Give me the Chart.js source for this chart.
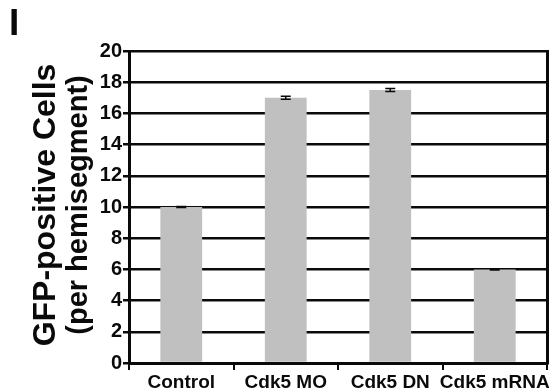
<!DOCTYPE html>
<html>
<head>
<meta charset="utf-8">
<script src="https://cdn.jsdelivr.net/npm/chart.js@4"></script>
<style>
  html, body { margin: 0; padding: 0; background: #fff; }
  #wrap { width: 553px; height: 392px; }
</style>
</head>
<body>
<div id="wrap"><canvas id="myChart" width="553" height="392"></canvas></div>
<script>
// data
const groups = ['Control', 'Cdk5 MO', 'Cdk5 DN', 'Cdk5 mRNA'];
const cellCounts = [10.0, 17.0, 17.5, 6.0];
const cellErrors = [0.04, 0.1, 0.1, 0.04];
const yTicks = [0, 2, 4, 6, 8, 10, 12, 14, 16, 18, 20];

const FONT = "'Liberation Sans', Arial, Helvetica, sans-serif";
const INK = '#0a0a0a';

// error bars + panel letter + axis title
const extras = {
  id: 'extras',
  afterDatasetsDraw(chart) {
    const ctx = chart.ctx;
    const y = chart.scales.y;
    const meta = chart.getDatasetMeta(0);
    ctx.save();
    ctx.strokeStyle = INK;
    ctx.lineWidth = 1.5;
    meta.data.forEach((bar, i) => {
      const v = cellCounts[i], e = cellErrors[i];
      const top = y.getPixelForValue(v + e);
      const bot = y.getPixelForValue(v - e);
      const cap = 5;
      ctx.beginPath();
      ctx.moveTo(bar.x, top); ctx.lineTo(bar.x, bot);
      ctx.moveTo(bar.x - cap, top); ctx.lineTo(bar.x + cap, top);
      ctx.moveTo(bar.x - cap, bot); ctx.lineTo(bar.x + cap, bot);
      ctx.stroke();
    });
    ctx.restore();
  },
  afterDraw(chart) {
    const ctx = chart.ctx;
    const a = chart.chartArea;
    ctx.save();
    ctx.fillStyle = INK;

    // panel letter
    ctx.font = 'bold 37px ' + FONT;
    ctx.textAlign = 'left';
    ctx.textBaseline = 'alphabetic';
    ctx.fillText('I', 9, 35);

    // y axis title (two lines, different sizes)
    const cy = (a.top + a.bottom) / 2 - 2;
    ctx.translate(0, cy);
    ctx.rotate(-Math.PI / 2);
    ctx.textAlign = 'center';
    ctx.font = 'bold 32px ' + FONT;
    ctx.fillText('GFP-positive Cells', 0, 55);
    ctx.font = 'bold 29px ' + FONT;
    ctx.fillText('(per hemisegment)', 0, 87);
    ctx.restore();
  }
};

new Chart(document.getElementById('myChart'), {
  type: 'bar',
  data: {
    labels: groups,
    datasets: [{
      data: cellCounts,
      backgroundColor: '#c0c0c0',
      borderWidth: 0,
      barPercentage: 0.4,
      categoryPercentage: 1.0
    }]
  },
  options: {
    responsive: false,
    animation: false,
    devicePixelRatio: 1,
    layout: { padding: { top: 51, right: 0, left: 0, bottom: 0 } },
    plugins: { legend: { display: false }, tooltip: { enabled: false } },
    scales: {
      x: {
        offset: true,
        afterFit: (s) => { s.height = 29; },
        border: { display: true, color: INK, width: 3 },
        grid: { offset: true, drawOnChartArea: false, tickLength: 7, color: INK, lineWidth: 2 },
        ticks: {
          color: INK, padding: 1, autoSkip: false, maxRotation: 0,
          font: { family: FONT, size: 19, weight: 'bold' }
        }
      },
      y: {
        min: yTicks[0],
        max: yTicks[yTicks.length - 1],
        afterFit: (s) => { s.width = 129; },
        border: { display: true, color: INK, width: 3 },
        grid: { color: INK, lineWidth: 2.5, tickLength: 6 },
        ticks: {
          stepSize: yTicks[1] - yTicks[0],
          color: INK, padding: 1,
          font: { family: FONT, size: 20, weight: 'bold' }
        }
      },
      // right-hand frame line only
      yRight: {
        position: 'right',
        min: yTicks[0],
        max: yTicks[yTicks.length - 1],
        afterFit: (s) => { s.width = 6; },
        border: { display: true, color: INK, width: 3 },
        grid: { display: true, drawOnChartArea: false, drawTicks: false, lineWidth: 2.5, color: INK },
        ticks: { display: false }
      }
    }
  },
  plugins: [extras]
});
</script>
</body>
</html>
